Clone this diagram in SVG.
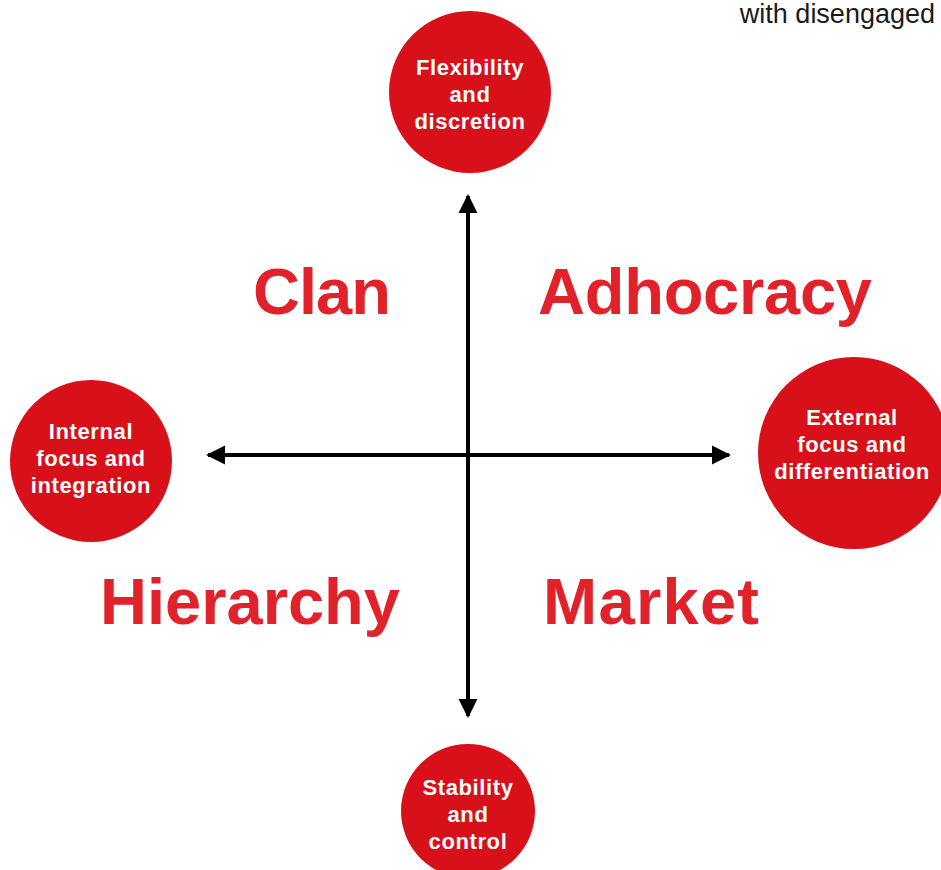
<svg xmlns="http://www.w3.org/2000/svg" width="941" height="870" viewBox="0 0 941 870">
  <defs>
    <marker id="head" viewBox="0 0 10 10" refX="9" refY="5" markerWidth="4.8" markerHeight="4.8" orient="auto-start-reverse" markerUnits="strokeWidth">
      <path d="M0,0 L10,5 L0,10 Z" fill="#000"/>
    </marker>
  </defs>
  <style>
    .bubble { fill: #d71019; }
    .bubble-text { font-family: "Liberation Sans", Arial, sans-serif; font-weight: bold; font-size: 22px; letter-spacing: 0.6px; fill: #fff; text-anchor: middle; }
    .quadrant { font-family: "Liberation Sans", Arial, sans-serif; font-weight: bold; font-size: 65px; fill: #e1222b; }
    .axis { stroke: #000; stroke-width: 4; fill: none; }
    .note { font-family: "Liberation Sans", Arial, sans-serif; font-size: 27px; fill: #1a1a1a; text-anchor: end; }
  </style>
  <rect width="941" height="870" fill="#fff"/>

  <text class="note" x="935" y="23">with disengaged</text>

  <!-- axes -->
  <g id="connectors">
    <line class="axis" x1="468" y1="455" x2="468" y2="196" marker-end="url(#head)"/>
    <line class="axis" x1="468" y1="455" x2="468" y2="716" marker-end="url(#head)"/>
    <line class="axis" x1="468" y1="455" x2="208" y2="455" marker-end="url(#head)"/>
    <line class="axis" x1="468" y1="455" x2="729" y2="455" marker-end="url(#head)"/>
  </g>

  <!-- quadrant labels -->
  <g id="clan"><text class="quadrant" x="253" y="314" textLength="138">Clan</text></g>
  <g id="adhocracy"><text class="quadrant" x="538" y="314" textLength="334">Adhocracy</text></g>
  <g id="hierarchy"><text class="quadrant" x="100" y="624" textLength="300">Hierarchy</text></g>
  <g id="market"><text class="quadrant" x="543" y="624" textLength="216">Market</text></g>

  <!-- axis end bubbles -->
  <g id="flexibility">
    <circle class="bubble" cx="470" cy="92" r="81"/>
    <text class="bubble-text" x="470" y="75">Flexibility</text>
    <text class="bubble-text" x="470" y="102">and</text>
    <text class="bubble-text" x="470" y="129">discretion</text>
  </g>
  <g id="internal">
    <circle class="bubble" cx="91" cy="461" r="81"/>
    <text class="bubble-text" x="91" y="439">Internal</text>
    <text class="bubble-text" x="91" y="466">focus and</text>
    <text class="bubble-text" x="91" y="493">integration</text>
  </g>
  <g id="external">
    <circle class="bubble" cx="854" cy="453" r="96"/>
    <text class="bubble-text" x="852" y="425">External</text>
    <text class="bubble-text" x="852" y="452">focus and</text>
    <text class="bubble-text" x="852" y="479">differentiation</text>
  </g>
  <g id="stability">
    <circle class="bubble" cx="468" cy="811" r="67"/>
    <text class="bubble-text" x="468" y="795">Stability</text>
    <text class="bubble-text" x="468" y="822">and</text>
    <text class="bubble-text" x="468" y="849">control</text>
  </g>
</svg>
